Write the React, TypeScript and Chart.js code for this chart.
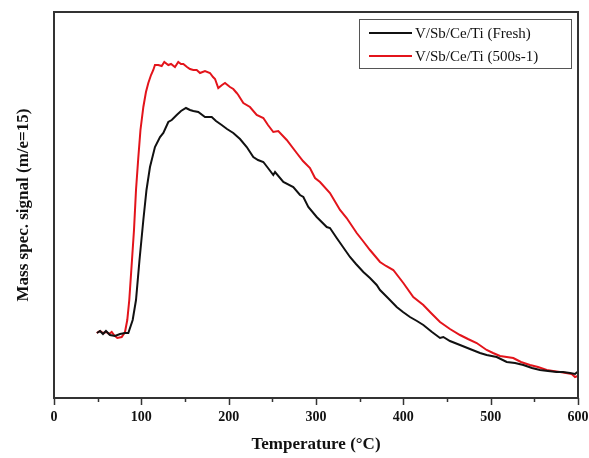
import React, { useEffect, useRef } from "react";
import { Chart, registerables } from "chart.js";

Chart.register(...registerables);

// Temperature (°C) and mass-spec signal (arbitrary units, m/e=15)
const freshTemperature = [
  49.2, 52.7, 56.1, 59.5, 64.1, 69.8, 75.6, 81.3, 85.1, 90.1,
  93.9, 97.9, 102.3, 105.9, 109.9, 115.6, 121.4, 125.2, 130.9, 134.8,
  140.5, 145.4, 151.1, 155.7, 159.5, 165.2, 172.9, 180.6, 185.5, 192.0,
  198.1, 205.3, 213.0, 220.7, 228.2, 233.6, 239.7, 245.0, 251.1, 253.1,
  262.6, 274.0, 281.7, 285.5, 291.2, 300.8, 312.3, 316.0, 323.7, 330.9,
  338.9, 345.8, 354.2, 361.8, 369.5, 373.3, 382.4, 392.4, 399.6, 407.6,
  415.6, 422.9, 432.8, 442.0, 445.8, 453.4, 464.9, 476.3, 487.8, 495.4,
  506.9, 518.4, 527.9, 537.4, 547.3, 556.5, 565.6, 575.6, 582.8, 590.8,
  596.6, 599.2,
];
const freshSignal = [
  0.65, 0.67, 0.64, 0.67, 0.63, 0.62, 0.64, 0.65, 0.65, 0.78,
  0.98, 1.38, 1.78, 2.08, 2.31, 2.51, 2.61, 2.65, 2.76, 2.78,
  2.83, 2.87, 2.90, 2.88, 2.87, 2.86, 2.81, 2.81, 2.77, 2.73,
  2.69, 2.65, 2.59, 2.51, 2.41, 2.38, 2.36, 2.30, 2.23, 2.26,
  2.16, 2.11, 2.03, 2.01, 1.91, 1.81, 1.71, 1.70, 1.60, 1.51,
  1.41, 1.34, 1.26, 1.20, 1.13, 1.08, 1.00, 0.91, 0.86, 0.81,
  0.77, 0.73, 0.66, 0.60, 0.61, 0.57, 0.53, 0.49, 0.45, 0.43,
  0.41, 0.36, 0.35, 0.33, 0.30, 0.28, 0.27, 0.26, 0.26, 0.25,
  0.24, 0.26,
];
const agedTemperature = [
  48.9, 52.7, 56.1, 60.3, 63.0, 66.1, 68.7, 72.5, 77.5, 81.3,
  83.9, 86.2, 89.3, 91.6, 93.9, 96.5, 99.0, 102.3, 105.3, 108.0,
  111.1, 113.7, 115.6, 119.4, 123.3, 126.3, 130.9, 134.0, 138.5, 142.3,
  145.4, 148.1, 152.3, 155.7, 159.5, 163.4, 167.2, 172.9, 178.6, 182.1,
  184.4, 188.1, 192.4, 195.8, 201.5, 205.3, 209.2, 211.0, 216.8, 224.4,
  232.1, 239.7, 245.0, 251.1, 256.8, 266.5, 277.9, 285.1, 293.1, 298.9,
  304.6, 316.0, 327.5, 335.1, 346.6, 353.8, 361.8, 373.3, 380.2, 388.5,
  400.0, 411.4, 422.9, 431.7, 442.0, 453.4, 464.9, 474.0, 484.0, 495.4,
  502.7, 510.7, 525.9, 534.7, 545.0, 554.2, 564.2, 571.4, 579.4, 586.3,
  592.8, 596.6, 600.0,
];
const agedSignal = [
  0.65, 0.67, 0.65, 0.66, 0.64, 0.66, 0.63, 0.60, 0.61, 0.66,
  0.78, 0.98, 1.38, 1.68, 2.08, 2.40, 2.68, 2.91, 3.06, 3.15,
  3.23, 3.28, 3.33, 3.33, 3.32, 3.36, 3.33, 3.34, 3.31, 3.36,
  3.34, 3.34, 3.31, 3.29, 3.28, 3.28, 3.25, 3.27, 3.25, 3.21,
  3.19, 3.10, 3.13, 3.15, 3.11, 3.09, 3.05, 3.03, 2.95, 2.91,
  2.83, 2.80, 2.73, 2.66, 2.67, 2.58, 2.45, 2.37, 2.30, 2.20,
  2.16, 2.05, 1.88, 1.80, 1.65, 1.57, 1.48, 1.36, 1.32, 1.28,
  1.15, 1.01, 0.93, 0.85, 0.76, 0.69, 0.63, 0.59, 0.55, 0.48,
  0.45, 0.42, 0.40, 0.36, 0.33, 0.31, 0.28, 0.27, 0.26, 0.25,
  0.24, 0.21, 0.22,
];

const seriesLabels = ["V/Sb/Ce/Ti (Fresh)", "V/Sb/Ce/Ti (500s-1)"];
const seriesColors = ["#111111", "#e3141b"];
const xMin = 0;
const xMax = 600;
const xStep = 50;
const xLabelStep = 100;
const yMin = 0;
const yMax = 3.86;

const SERIF = "'Liberation Serif', 'Times New Roman', serif";

const framePlugin = {
  id: "frameAndLegend",
  afterDraw(chart: any) {
    const { ctx, chartArea } = chart;
    const { left, right, top, bottom } = chartArea;
    const xs = chart.scales.x;
    ctx.save();
    // ticks (outward, bottom)
    ctx.strokeStyle = "#333";
    ctx.lineWidth = 1.5;
    xs.ticks.forEach((t: any) => {
      const px = Math.round(xs.getPixelForValue(t.value)) + 0.5;
      const major = t.value % xLabelStep === 0;
      ctx.beginPath();
      ctx.moveTo(px, bottom);
      ctx.lineTo(px, bottom + (major ? 7 : 4));
      ctx.stroke();
    });
    // frame
    ctx.lineWidth = 2;
    ctx.strokeStyle = "#333";
    ctx.strokeRect(left, top, right - left, bottom - top);

    // legend box
    const bx = 359.5, by = 19.5, bw = 212, bh = 49;
    ctx.lineWidth = 1;
    ctx.strokeStyle = "#555";
    ctx.fillStyle = "#fff";
    ctx.fillRect(bx, by, bw, bh);
    ctx.strokeRect(bx, by, bw, bh);
    ctx.font = `15px ${SERIF}`;
    ctx.textBaseline = "middle";
    ctx.textAlign = "left";
    chart.data.datasets.forEach((ds: any, i: number) => {
      const ly = 33 + i * 23;
      ctx.strokeStyle = ds.borderColor;
      ctx.lineWidth = 2;
      ctx.beginPath();
      ctx.moveTo(369, ly);
      ctx.lineTo(412, ly);
      ctx.stroke();
      ctx.fillStyle = "#111";
      ctx.fillText(ds.label, 415, ly + 1);
    });
    ctx.restore();
  },
};

export default function App() {
  const ref = useRef<HTMLCanvasElement | null>(null);

  useEffect(() => {
    if (!ref.current) return;
    const toPoints = (xs: number[], ys: number[]) => xs.map((x, i) => ({ x, y: ys[i] }));
    const chart = new Chart(ref.current, {
      type: "line",
      data: {
        datasets: [
          {
            label: seriesLabels[0],
            data: toPoints(freshTemperature, freshSignal),
            borderColor: seriesColors[0],
            borderWidth: 2,
            pointRadius: 0,
            tension: 0,
            fill: false,
          },
          {
            label: seriesLabels[1],
            data: toPoints(agedTemperature, agedSignal),
            borderColor: seriesColors[1],
            borderWidth: 2,
            pointRadius: 0,
            tension: 0,
            fill: false,
          },
        ],
      },
      options: {
        animation: false,
        responsive: false,
        devicePixelRatio: 1,
        layout: { padding: { left: 0, top: 12, right: 11, bottom: 0 } },
        plugins: {
          legend: { display: false },
          tooltip: { enabled: false },
        },
        scales: {
          x: {
            type: "linear",
            min: xMin,
            max: xMax,
            afterFit: (s: any) => {
              s.height = 60;
              s.paddingLeft = 0;
              s.paddingRight = 0;
            },
            grid: { display: false, drawTicks: false },
            border: { display: false },
            ticks: {
              stepSize: xStep,
              padding: 11,
              color: "#111",
              font: { family: SERIF, size: 14, weight: "bold" },
              callback: (v: any) => (Number(v) % xLabelStep === 0 ? String(v) : ""),
              maxRotation: 0,
              autoSkip: false,
            },
            title: {
              display: true,
              text: "Temperature (°C)",
              color: "#111",
              font: { family: SERIF, size: 17, weight: "bold" },
              padding: { top: 0, bottom: 3 },
            },
          },
          y: {
            type: "linear",
            min: yMin,
            max: yMax,
            afterFit: (s: any) => {
              s.width = 54;
              s.paddingTop = 0;
              s.paddingBottom = 0;
            },
            grid: { display: false, drawTicks: false },
            border: { display: false },
            ticks: { display: false },
            title: {
              display: true,
              text: "Mass spec. signal (m/e=15)",
              color: "#111",
              font: { family: SERIF, size: 17, weight: "bold" },
              padding: { top: 13, bottom: 0 },
            },
          },
        },
      },
      plugins: [framePlugin],
    });
    return () => chart.destroy();
  }, []);

  return (
    <div style={{ position: "fixed", left: 0, top: 0, width: 589, height: 458, background: "#fff" }}>
      <canvas ref={ref} width={589} height={458} />
    </div>
  );
}
